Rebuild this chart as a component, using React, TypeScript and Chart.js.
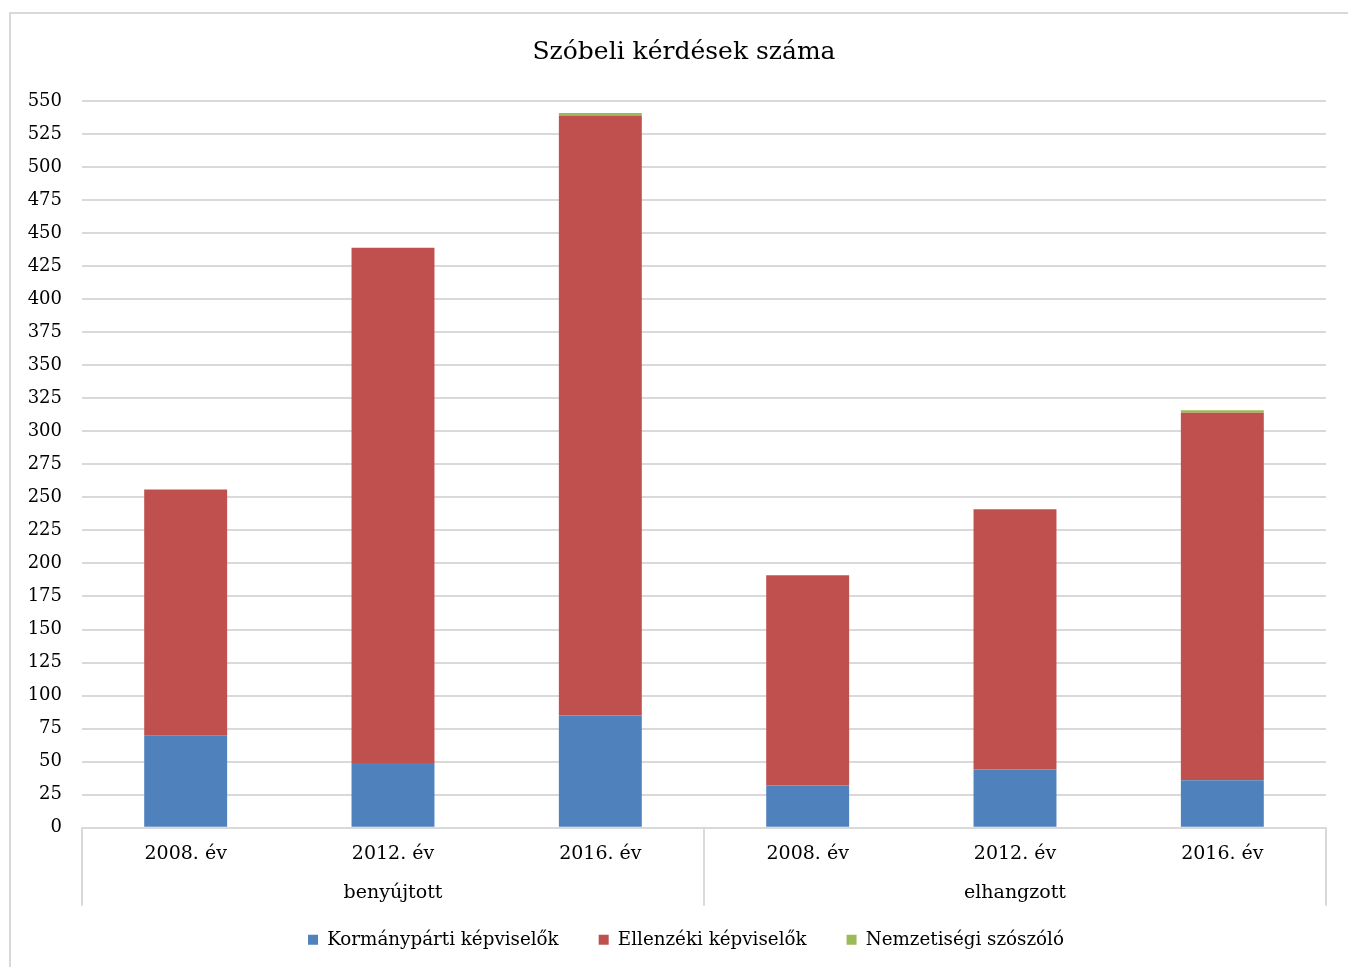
import React, { useEffect, useRef } from "react";
import { Chart, registerables } from "chart.js";

Chart.register(...registerables);

const TITLE = "Szóbeli kérdések száma";
const years = ["2008. év", "2012. év", "2016. év", "2008. év", "2012. év", "2016. év"];
const groups = ["benyújtott", "elhangzott"];
const groupSize = 3;
const seriesNames = ["Kormánypárti képviselők", "Ellenzéki képviselők", "Nemzetiségi szószóló"];
const kormanyparti = [70, 49, 85, 32, 44, 36];
const ellenzeki = [186, 390, 454, 159, 197, 278];
const nemzetisegi = [0, 0, 2, 0, 0, 2];
const seriesColors = ["#4F81BD", "#C0504D", "#9BBB59"];
const yMax = 550;
const yStep = 25;

const FONT = "'DejaVu Serif', serif";
const GRID = "#d9d9d9";
const LEGEND_SHIFT = 23;

const groupPlugin = {
  id: "groupPlugin",
  afterLayout(chart: any) {
    const l = chart.legend;
    if (l) {
      l.left += LEGEND_SHIFT;
      l.right += LEGEND_SHIFT;
    }
  },
  afterDraw(chart: any) {
    const { ctx, chartArea, scales } = chart;
    const x = scales.x;
    const bottom = chartArea.bottom;
    const sepBottom = bottom + 78;
    ctx.save();
    // title
    ctx.fillStyle = "#000";
    ctx.font = `25px ${FONT}`;
    ctx.textAlign = "center";
    ctx.textBaseline = "middle";
    ctx.fillText(TITLE, 684, 52);
    // separators
    ctx.strokeStyle = GRID;
    ctx.lineWidth = 2;
    const n = years.length;
    const positions: number[] = [chartArea.left];
    for (let g = 1; g < groups.length; g++) {
      const i = g * groupSize;
      positions.push((x.getPixelForValue(i - 1) + x.getPixelForValue(i)) / 2);
    }
    positions.push(chartArea.right);
    positions.forEach((px) => {
      ctx.beginPath();
      ctx.moveTo(px, bottom);
      ctx.lineTo(px, sepBottom);
      ctx.stroke();
    });
    // group labels
    ctx.font = `19px ${FONT}`;
    ctx.fillStyle = "#000";
    groups.forEach((g, gi) => {
      const a = x.getPixelForValue(gi * groupSize);
      const b = x.getPixelForValue(Math.min(n - 1, gi * groupSize + groupSize - 1));
      ctx.fillText(g, (a + b) / 2, 893);
    });
    ctx.restore();
  },
};

export default function App() {
  const ref = useRef<HTMLCanvasElement>(null);
  useEffect(() => {
    if (!ref.current) return;
    const chart = new Chart(ref.current, {
      type: "bar",
      data: {
        labels: years,
        datasets: [
          { label: seriesNames[0], data: kormanyparti, backgroundColor: seriesColors[0] },
          { label: seriesNames[1], data: ellenzeki, backgroundColor: seriesColors[1] },
          { label: seriesNames[2], data: nemzetisegi, backgroundColor: seriesColors[2] },
        ],
      },
      options: {
        responsive: false,
        animation: false,
        layout: { padding: { top: 101, left: 0, right: 42, bottom: 8 } },
        datasets: { bar: { categoryPercentage: 1, barPercentage: 0.4 } },
        plugins: {
          title: { display: false },
          tooltip: { enabled: false },
          legend: {
            position: "bottom",
            labels: {
              boxWidth: 10,
              boxHeight: 10,
              padding: 40,
              color: "#000",
              font: { family: FONT, size: 18.3 },
            },
          },
        },
        scales: {
          x: {
            stacked: true,
            grid: { display: false, drawTicks: false },
            border: { display: true, color: GRID, width: 2 },
            ticks: { color: "#000", font: { family: FONT, size: 19 }, padding: 15, maxRotation: 0 },
            afterFit(scale: any) {
              scale.height = 63;
            },
          },
          y: {
            stacked: true,
            min: 0,
            max: yMax,
            grid: { color: GRID, lineWidth: 2, drawTicks: false },
            border: { display: false },
            ticks: { stepSize: yStep, color: "#000", font: { family: FONT, size: 18 }, padding: 20 },
            afterFit(scale: any) {
              scale.width = 82;
            },
          },
        },
      },
      plugins: [groupPlugin],
    });
    return () => chart.destroy();
  }, []);
  return (
    <div style={{ position: "fixed", left: 0, top: 0, width: 1348, height: 967, overflow: "hidden", background: "#fff" }}>
      <div
        style={{
          position: "absolute",
          left: 9,
          top: 12,
          width: 1400,
          height: 1000,
          border: `2px solid ${GRID}`,
          boxSizing: "border-box",
        }}
      />
      <canvas
        ref={ref}
        width={1368}
        height={967}
        style={{ position: "absolute", left: 0, top: 0, width: 1368, height: 967 }}
      />
    </div>
  );
}
